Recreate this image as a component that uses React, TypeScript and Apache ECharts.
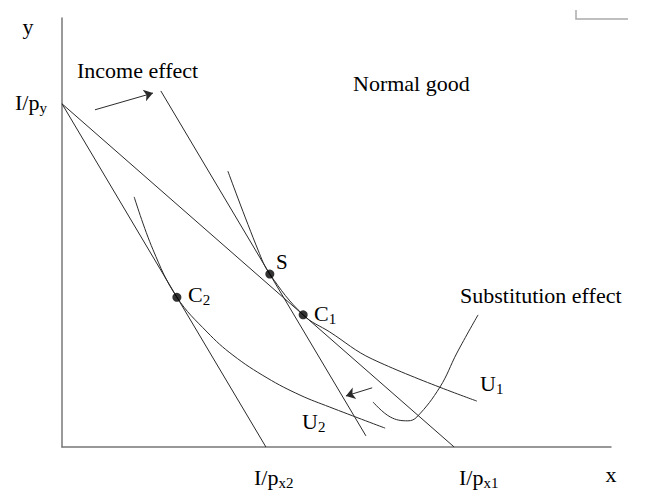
import React, { useEffect, useRef } from 'react';
import * as echarts from 'echarts';

// axis ranges (x: units of good x, y: units of good y)
const xMax = 14;
const yMax = 10;

// intercepts
const incomeOverPy = 8;
const xTickValues = [5.2, 10];
const xTickLabels = ['x2', 'x1'];

// budget lines
const budgetOriginal = [[0, incomeOverPy], [xTickValues[1], 0]];
const budgetNew = [[0, incomeOverPy], [xTickValues[0], 0]];
const budgetCompensated = [[2.52, 8.3], [7.75, 0.26]];

// indifference curves
const u1Points = [
  [4.23, 6.43], [5.0, 4.59], [5.3, 4.03], [6.15, 3.08], [6.83, 2.68], [7.91, 2.05], [10.58, 1.07],
];
const u2Points = [
  [1.84, 5.83], [2.32, 4.6], [2.93, 3.49], [3.7, 2.68], [4.36, 2.14], [5.23, 1.61], [6.07, 1.21],
  [6.83, 0.93], [8.24, 0.44],
];

// the hook pointing at the substitution effect
const hookPoints = [
  [7.93, 1.05], [8.37, 0.7], [8.82, 0.61], [9.05, 0.7], [9.64, 1.4], [10.07, 2.19], [10.61, 3.08],
];

// optimum points S, C1, C2
const optimumPoints = [[5.3, 4.03], [6.15, 3.08], [2.93, 3.49]];

// arrows
const incomeArrow = [[0.84, 7.86], [2.32, 8.25]];
const substitutionArrow = [[7.91, 1.38], [7.24, 1.19]];

const FONT = '"Liberation Serif", "Times New Roman", serif';
const INK = '#2a2a2a';

const subRich = {
  m: { fontSize: 22, fontFamily: FONT, fill: '#000', color: '#000', lineHeight: 26 },
  s: { fontSize: 15, fontFamily: FONT, fill: '#000', color: '#000', lineHeight: 10, verticalAlign: 'bottom' },
};

const label = (text: string, x: number, y: number, size = 22, align = 'left') => ({
  type: 'text',
  x,
  y,
  z: 100,
  style: {
    text,
    fill: '#000',
    font: `${size}px ${FONT}`,
    align,
    textAlign: align,
    verticalAlign: 'middle',
    textVerticalAlign: 'middle',
  },
});

const subLabel = (main: string, sub: string, x: number, y: number) => ({
  type: 'text',
  x,
  y,
  z: 100,
  style: {
    text: `{m|${main}}{s|${sub}}`,
    rich: subRich,
    fill: '#000',
    align: 'left',
    textAlign: 'left',
    verticalAlign: 'middle',
    textVerticalAlign: 'middle',
  },
});

const lineSeries = (data: number[][], smooth: boolean | number = false) => ({
  type: 'line',
  data,
  smooth,
  showSymbol: false,
  symbol: 'none',
  silent: true,
  lineStyle: { color: INK, width: 1 },
});

const App: React.FC = () => {
  const chartRef = useRef<HTMLDivElement>(null);

  useEffect(() => {
    if (!chartRef.current) return;
    const chart = echarts.init(chartRef.current, undefined, { renderer: 'svg' });

    const option = {
      animation: false,
      backgroundColor: '#ffffff',
      grid: { left: 62, top: 18, right: 37, bottom: 48 },
      xAxis: {
        type: 'value',
        min: 0,
        max: xMax,
        axisLine: { lineStyle: { color: '#777', width: 1.5 } },
        axisTick: { show: false },
        axisLabel: { show: false },
        splitLine: { show: false },
      },
      yAxis: {
        type: 'value',
        min: 0,
        max: yMax,
        axisLine: { show: true, lineStyle: { color: '#777', width: 1.5 } },
        axisTick: { show: false },
        axisLabel: { show: false },
        splitLine: { show: false },
      },
      series: [
        lineSeries(budgetOriginal),
        lineSeries(budgetNew),
        lineSeries(budgetCompensated),
        lineSeries(u1Points, 0.4),
        lineSeries(u2Points, 0.4),
        lineSeries(hookPoints, 0.4),
        {
          type: 'lines',
          coordinateSystem: 'cartesian2d',
          silent: true,
          symbol: ['none', 'arrow'],
          symbolSize: 9,
          lineStyle: { color: INK, width: 1, opacity: 1 },
          data: [{ coords: incomeArrow }, { coords: substitutionArrow }],
        },
        {
          type: 'scatter',
          data: optimumPoints,
          symbolSize: 9,
          silent: true,
          itemStyle: { color: '#000' },
          z: 5,
        },
      ],
      graphic: [
        label('y', 28, 26, 22, 'center'),
        label('x', 611, 474, 22, 'center'),
        subLabel('I/p', 'y', 15, 102),
        subLabel('I/p', xTickLabels[0], 254, 477),
        subLabel('I/p', xTickLabels[1], 459, 477),
        label('Income effect', 77, 70),
        label('Normal good', 353, 83),
        label('Substitution effect', 460, 295),
        label('S', 276, 262, 21),
        subLabel('C', '1', 314, 313),
        subLabel('C', '2', 188, 294),
        subLabel('U', '1', 480, 383),
        subLabel('U', '2', 302, 421),
        {
          type: 'polyline',
          shape: { points: [[576, 10], [576, 19], [628, 19]] },
          style: { stroke: '#aaa', lineWidth: 1.5, fill: 'none' },
        },
      ],
    };

    chart.setOption(option);
    return () => {
      chart.dispose();
    };
  }, []);

  return (
    <div
      ref={chartRef}
      style={{ position: 'absolute', left: 0, top: 0, width: '648px', height: '495px' }}
    />
  );
};

export default App;
